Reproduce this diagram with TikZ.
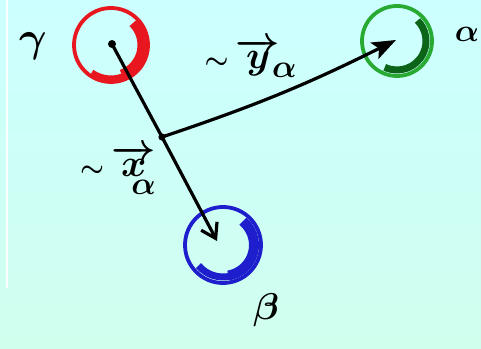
\documentclass[tikz,border=0pt]{standalone}
\usetikzlibrary{arrows.meta}
\definecolor{bgtop}{RGB}{204,255,255}
\definecolor{bgbot}{RGB}{208,255,238}
\definecolor{redc}{RGB}{232,22,30}
\definecolor{greenc}{RGB}{40,170,50}
\definecolor{greend}{RGB}{12,100,24}
\definecolor{bluec}{RGB}{30,30,205}
\begin{document}
\begin{tikzpicture}[x=1pt,y=1pt,
  ball/.style={circle,draw,line width=3.8pt,minimum size=#1,inner sep=0pt},
  ink/.style={line width=3.2pt,line cap=round},
  lbl/.style={inner sep=0pt,scale=#1,font=\Huge\boldmath}]
\useasboundingbox (0,0) rectangle (481,348);
\shade[top color=bgtop,bottom color=bgbot] (0,0) rectangle (481,348);
\draw[white,line width=1.2pt] (7,348) -- (7,60);
% balls
\node[ball=74pt,draw=redc] (gamma) at (111,303) {};
\node[ball=70pt,draw=greenc] (alpha) at (397,307) {};
\node[ball=76pt,draw=bluec] (beta) at (223,103) {};
% crescents
\draw[redc,line width=9pt] (gamma.center) ++(-70:31) arc[start angle=-70,end angle=45,radius=31];
\draw[redc,line width=5pt] (gamma.center) ++(-125:33) arc[start angle=-125,end angle=-60,radius=33];
\draw[greend,line width=7pt] (alpha.center) ++(-115:29) arc[start angle=-115,end angle=45,radius=29];
\draw[bluec,line width=10pt] (beta.center) ++(-80:31) arc[start angle=-80,end angle=50,radius=31];
\draw[bluec,line width=7pt] (beta.center) ++(-140:32) arc[start angle=-140,end angle=-75,radius=32];
% labels
\node[lbl=1.7] (lg) at (33,302) {$\gamma$};
\node[lbl=1.28] (la) at (467,314) {$\alpha$};
\node[lbl=1.5] (lb) at (266,38) {$\beta$};
\node[lbl=1.55] (ly) at (251,290) {${\scriptscriptstyle\sim}\,\overrightarrow{y}_{\mkern-4mu\alpha}$};
\node[lbl=1.55] (lx) at (118,178) {${\scriptscriptstyle\sim}\,\overrightarrow{x}\mkern-10mu\lower12pt\hbox{$\scriptstyle\alpha$}$};
% connectors
\coordinate (gc) at (112,304);
\coordinate (j) at (162,211);
\coordinate (bt) at (217,107);
\coordinate (at) at (396,308);
\fill (gc) circle (4);
\fill (j) circle (3.6);
\draw[ink] (gc) -- (j);
\draw[ink,-{Straight Barb[length=14pt,width=18pt,line width=3.2pt]}] (j) -- (bt);
\draw[ink,-{Stealth[length=24pt,width=18pt,inset=5pt]}] (j) to[bend right=4] (at);
\end{tikzpicture}
\end{document}
